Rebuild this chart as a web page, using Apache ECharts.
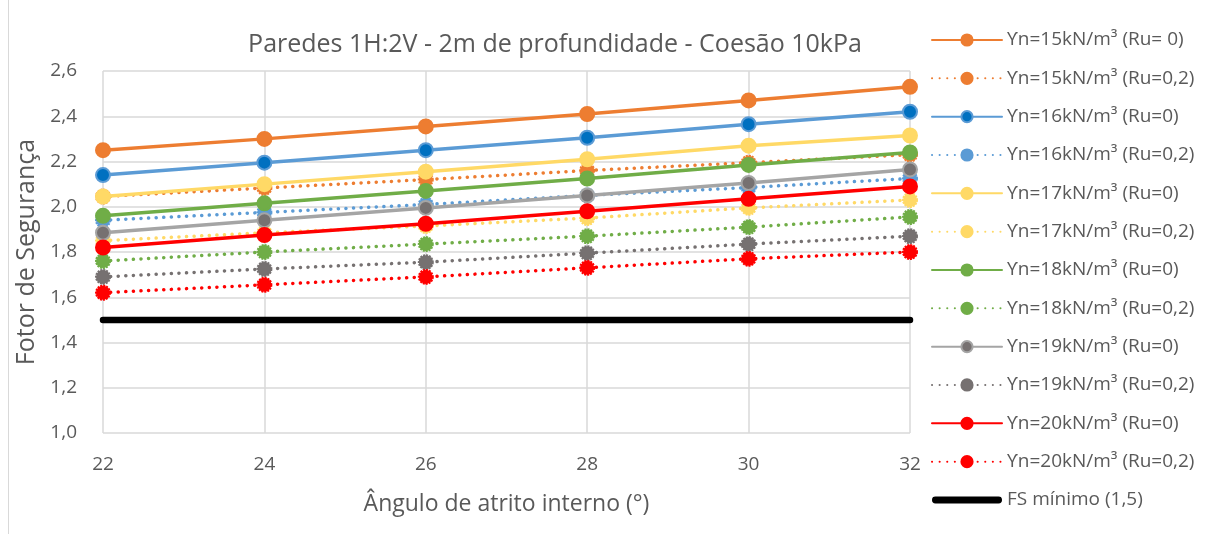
<!DOCTYPE html>
<html><head><meta charset="utf-8">
<script src="https://cdn.jsdelivr.net/npm/echarts@6/dist/echarts.min.js"></script>
<style>html,body{margin:0;padding:0;background:#fff}#c{width:1216px;height:534px}</style>
</head><body><div id="c"></div>
<script>
var angles = [22, 24, 26, 28, 30, 32];
var g15_0  = [2.25, 2.30, 2.355, 2.41, 2.47, 2.53];
var g15_02 = [2.045, 2.083, 2.12, 2.16, 2.195, 2.23];
var g16_0  = [2.14, 2.195, 2.25, 2.305, 2.365, 2.42];
var g16_02 = [1.94, 1.975, 2.01, 2.05, 2.085, 2.125];
var g17_0  = [2.045, 2.10, 2.155, 2.21, 2.27, 2.315];
var g17_02 = [1.85, 1.885, 1.915, 1.95, 1.995, 2.03];
var g18_0  = [1.96, 2.015, 2.07, 2.125, 2.185, 2.24];
var g18_02 = [1.76, 1.80, 1.835, 1.87, 1.91, 1.955];
var g19_0  = [1.885, 1.94, 1.995, 2.05, 2.105, 2.165];
var g19_02 = [1.69, 1.725, 1.755, 1.795, 1.835, 1.87];
var g20_0  = [1.82, 1.875, 1.925, 1.98, 2.035, 2.09];
var g20_02 = [1.62, 1.655, 1.69, 1.73, 1.77, 1.80];
var fsMin  = [1.5, 1.5, 1.5, 1.5, 1.5, 1.5];
var names = [
  'ϒn=15kN/m³ (Ru= 0)', 'ϒn=15kN/m³ (Ru=0,2)',
  'ϒn=16kN/m³ (Ru=0)', 'ϒn=16kN/m³ (Ru=0,2)',
  'ϒn=17kN/m³ (Ru=0)', 'ϒn=17kN/m³ (Ru=0,2)',
  'ϒn=18kN/m³ (Ru=0)', 'ϒn=18kN/m³ (Ru=0,2)',
  'ϒn=19kN/m³ (Ru=0)', 'ϒn=19kN/m³ (Ru=0,2)',
  'ϒn=20kN/m³ (Ru=0)', 'ϒn=20kN/m³ (Ru=0,2)',
  'FS mínimo (1,5)'
];
var values = [g15_0, g15_02, g16_0, g16_02, g17_0, g17_02, g18_0, g18_02, g19_0, g19_02, g20_0, g20_02, fsMin];
var lineColors = ['#ED7D31','#ED7D31','#5B9BD5','#5B9BD5','#FFD966','#FFD966','#70AD47','#70AD47','#A5A5A5','#767171','#FF0000','#FF0000','#000000'];
var fillColors = ['#ED7D31','#ED7D31','#0070C0','#5B9BD5','#FFD966','#FFD966','#70AD47','#70AD47','#767171','#767171','#FF0000','#FF0000','#000000'];

function pairs(v){ return angles.map(function(a,i){ return [a, v[i]]; }); }

var series = names.map(function(n, i){
  var dotted = (i % 2 === 1) && i < 12;
  var isFS = i === 12;
  return {
    name: n, type: 'line', data: pairs(values[i]),
    symbol: isFS ? 'none' : 'circle',
    symbolSize: 14,
    showSymbol: !isFS,
    z: 2 + i,
    lineStyle: { color: lineColors[i], width: isFS ? 6.5 : 3.5, type: dotted ? [0.1, 7.5] : 'solid', cap: 'round' },
    itemStyle: { color: fillColors[i], borderColor: lineColors[i], borderWidth: 2, borderType: dotted ? [2,1] : 'solid' },
    emphasis: { disabled: true },
    animation: false
  };
});

var legendData = names.map(function(n, i){
  return i === 12 ? { name: n, icon: 'path://M3,0 H67 A3,3 0 0 1 67,7 H3 A3,3 0 0 1 3,0 Z', itemStyle: { color: '#000', borderWidth: 0 } } : n;
});

var chart = echarts.init(document.getElementById('c'));
chart.setOption({
  animation: false,
  backgroundColor: '#fff',
  title: { text: 'Paredes 1H:2V - 2m de profundidade - Coesão 10kPa', left: 550, textAlign: 'center', top: 27,
    textStyle: { fontFamily: 'Open Sans', fontSize: 25, fontWeight: 'normal', color: '#595959' } },
  grid: { left: 103, right: 306, top: 71, bottom: 101 },
  xAxis: { type: 'value', min: 22, max: 32, interval: 2,
    name: 'Ângulo de atrito interno (°)', nameLocation: 'middle', nameGap: 60,
    nameTextStyle: { fontFamily: 'Open Sans', fontSize: 23, color: '#595959' },
    axisLine: { show: false }, axisTick: { show: false },
    axisLabel: { fontFamily: 'Open Sans', fontSize: 19, color: '#595959', margin: 22 },
    splitLine: { show: true, lineStyle: { color: '#D9D9D9', width: 1.5 } } },
  yAxis: { type: 'value', min: 1.0, max: 2.6, interval: 0.2,
    name: 'Fotor de Segurança', nameLocation: 'middle', nameGap: 51, nameRotate: 90,
    nameTextStyle: { fontFamily: 'Open Sans', fontSize: 25, color: '#595959' },
    axisLine: { show: false }, axisTick: { show: false },
    axisLabel: { fontFamily: 'Open Sans', fontSize: 19, color: '#595959', margin: 26,
      formatter: function(v){ return v.toFixed(1).replace('.', ','); } },
    splitLine: { show: true, lineStyle: { color: '#D9D9D9', width: 1.5 } } },
  legend: { orient: 'vertical', left: 926, top: 25, itemWidth: 70, itemHeight: 14, itemGap: 18.33,
    data: legendData,
    textStyle: { fontFamily: 'Open Sans', fontSize: 19, color: '#595959', lineHeight: 20 } },
  graphic: [{ type: 'line', shape: { x1: 8.5, y1: 0, x2: 8.5, y2: 534 }, style: { stroke: '#D9D9D9', lineWidth: 1 } }],
  series: series
});
</script></body></html>
